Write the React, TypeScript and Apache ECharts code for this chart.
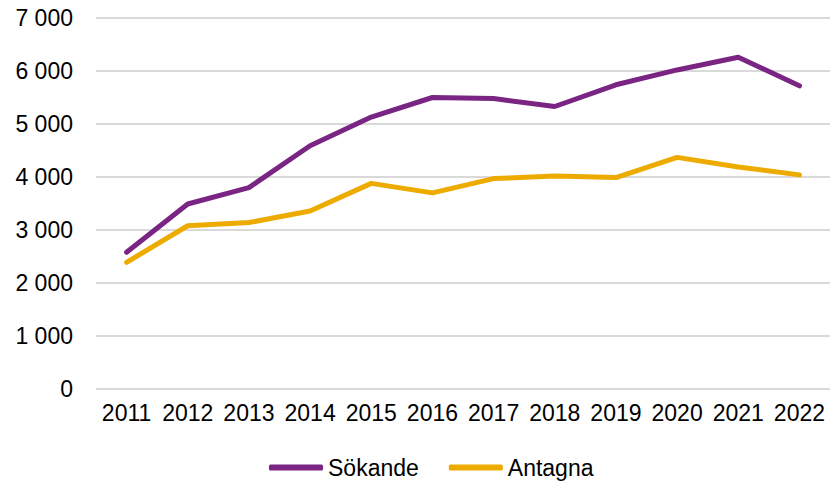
import React, { useEffect, useRef } from "react";
import * as echarts from "echarts";

const years = ["2011", "2012", "2013", "2014", "2015", "2016", "2017", "2018", "2019", "2020", "2021", "2022"];
const sokande = [2580, 3490, 3800, 4590, 5130, 5500, 5480, 5330, 5740, 6020, 6260, 5720];
const antagna = [2390, 3080, 3140, 3360, 3880, 3700, 3970, 4020, 3990, 4370, 4190, 4040];
const seriesNames = ["Sökande", "Antagna"];

const fmt = (v: number) => String(v).replace(/\B(?=(\d{3})+(?!\d))/g, " ");

export default function App() {
  const ref = useRef<HTMLDivElement>(null);
  useEffect(() => {
    const chart = echarts.init(ref.current!, null, { renderer: "svg" });
    const font = "Liberation Sans, Arial, sans-serif";
    chart.setOption({
      animation: false,
      textStyle: { fontFamily: font },
      grid: { left: 96, right: 3, top: 18, bottom: 94, containLabel: false },
      legend: {
        data: seriesNames,
        left: 269,
        top: 456,
        padding: 0,
        icon: "roundRect",
        itemWidth: 54,
        itemHeight: 6,
        itemGap: 30,
        textStyle: { fontSize: 23, color: "#000", fontFamily: font },
      },
      xAxis: {
        type: "category",
        data: years,
        boundaryGap: true,
        axisLine: { show: false },
        axisTick: { show: false },
        axisLabel: { fontSize: 23, color: "#000", margin: 12, interval: 0, fontFamily: font },
      },
      yAxis: {
        type: "value",
        min: 0,
        max: 7000,
        interval: 1000,
        axisLine: { show: false },
        axisTick: { show: false },
        splitLine: { lineStyle: { color: "#d9d9d9", width: 2 } },
        axisLabel: { fontSize: 23, color: "#000", margin: 23, fontFamily: font, formatter: (v: number) => fmt(v) },
      },
      series: [
        {
          name: seriesNames[0],
          type: "line",
          data: sokande,
          symbol: "none",
          itemStyle: { color: "#7a2583" },
          lineStyle: { color: "#7a2583", width: 5, cap: "round", join: "round" },
        },
        {
          name: seriesNames[1],
          type: "line",
          data: antagna,
          symbol: "none",
          itemStyle: { color: "#edab00" },
          lineStyle: { color: "#edab00", width: 5, cap: "round", join: "round" },
        },
      ],
    });
    return () => chart.dispose();
  }, []);
  return (
    <div
      ref={ref}
      style={{ position: "fixed", left: 0, top: 0, width: 833, height: 483, background: "#fff" }}
    />
  );
}
